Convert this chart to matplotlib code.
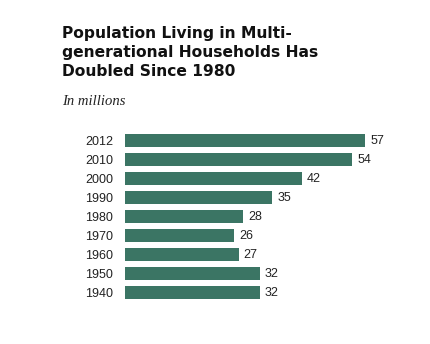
import matplotlib
matplotlib.use("Agg")
import matplotlib.pyplot as plt

# data, top to bottom
years = ["2012", "2010", "2000", "1990", "1980", "1970", "1960", "1950", "1940"]
population = [57, 54, 42, 35, 28, 26, 27, 32, 32]

bar_color = "#3b7564"

fig = plt.figure(figsize=(4.31, 3.44), dpi=100)
W, H = 431, 344

# axes placed in pixel terms
left, right = 125, 365
top, bottom = 131, 302
ax = fig.add_axes([left / W, 1 - bottom / H, (right - left) / W, (bottom - top) / H])

ypos = list(range(len(years)))
ax.barh(ypos, population, height=0.68, color=bar_color)
ax.set_xlim(0, 57)
ax.set_ylim(len(years) - 0.5, -0.5)

for y, v in zip(ypos, population):
    ax.text(v + 1.2, y + 0.05, str(v), va="center", ha="left",
            fontsize=9, family="Liberation Sans", color="#222222")

ax.set_yticks(ypos)
ax.set_yticklabels(years, fontsize=9, family="Liberation Sans", color="#222222")
ax.tick_params(axis="y", length=0, pad=8.5)
ax.set_xticks([])
for s in ax.spines.values():
    s.set_visible(False)

fig.text(62 / W, 1 - 26 / H,
         "Population Living in Multi-\ngenerational Households Has\nDoubled Since 1980",
         ha="left", va="top", fontsize=11.2, fontweight="bold",
         family="DejaVu Sans", linespacing=1.33, color="#111111")
fig.text(62 / W, 1 - 105 / H, "In millions", ha="left", va="baseline",
         fontsize=10.5, style="italic", family="Liberation Serif", color="#222222")

fig.savefig("out.png", dpi=100)
